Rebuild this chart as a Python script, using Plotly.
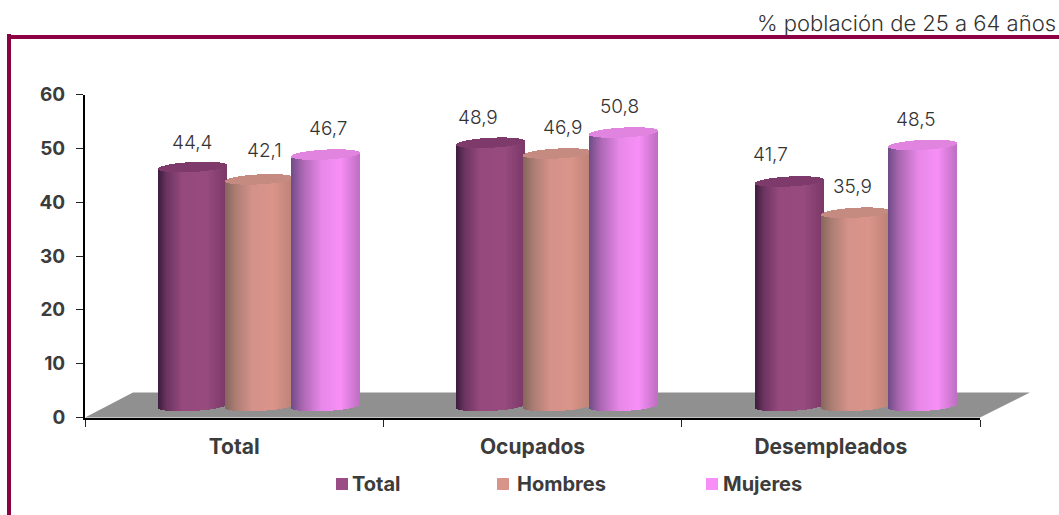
import plotly.graph_objects as go
import numpy as np

categories = ["Total", "Ocupados", "Desempleados"]
total = [44.4, 48.9, 41.7]
hombres = [42.1, 46.9, 35.9]
mujeres = [46.7, 50.8, 48.5]
y_ticks = [0, 10, 20, 30, 40, 50, 60]
unit_note = "% población de 25 a 64 años"

W, H = 1059, 515
FONT = "Inter"
TXT = "#3c3c3c"
TXT_LIGHT = "#333333"
FRAME = "#8c0044"


def px(x):
    return x / W


def py(y):
    return 1 - y / H


series = [
    dict(name="Total", values=total, swatch="#9c4c84", cap="#7f3a6c",
         stops=[(-1, "#3c1c3c"), (-0.75, "#6b3460"), (-0.3, "#95497c"), (0.4, "#984b7f"), (1, "#7c3a69")],
         label_dx=[0, -13, -18], label_y=[142, 117, 155], key_x=336, text_x=350),
    dict(name="Hombres", values=hombres, swatch="#d99489", cap="#c58a80",
         stops=[(-1, "#86655d"), (-0.7, "#ab7d73"), (-0.2, "#d4928a"), (0.4, "#db958a"), (1, "#bd8276")],
         label_dx=[6, 5, -3], label_y=[151, 128, 186], key_x=497, text_x=515),
    dict(name="Mujeres", values=mujeres, swatch="#f88ff8", cap="#e184e0",
         stops=[(-1, "#6f4c86"), (-0.65, "#ad68b4"), (-0.1, "#e888e8"), (0.45, "#f88ff8"), (1, "#c070c4")],
         label_dx=[3, -4, -6], label_y=[128, 106, 119], key_x=706, text_x=721),
]


def hex_rgb(c):
    return np.array([int(c[i:i + 2], 16) for i in (1, 3, 5)], float)


def shade(stops, u):
    xs = [s[0] for s in stops]
    rgb = np.array([hex_rgb(s[1]) for s in stops])
    return "rgb(%d,%d,%d)" % tuple(np.interp(u, xs, rgb[:, i]) for i in range(3))


AX_L, AX_R, AX_T, AX_B = 85, 980, 94.5, 417.5
DX, BASE_PX = 24.5, 406
PX_PER_UNIT = (AX_B - AX_T) / 60
CYL_STEP = 66.5 / ((AX_R - AX_L) / 3)
CYL_W = 68 / ((AX_R - AX_L) / 3)
N = 68
ELL = 5.0 / PX_PER_UNIT
TILT = 1.8 / PX_PER_UNIT
Y2_MIN = -5

fig = go.Figure()
# category axis carrier
fig.add_trace(go.Scatter(x=categories, y=[0, 0, 0], mode="markers", marker=dict(opacity=0),
                         showlegend=False, hoverinfo="skip", xaxis="x", yaxis="y"))

us = (np.arange(N) + 0.5) / N * 2 - 1
for si, s in enumerate(series):
    xs, bases, heights, colors = [], [], [], []
    for ci, v in enumerate(s["values"]):
        centre = ci + (si - 1) * CYL_STEP
        for u in us:
            r = np.sqrt(max(1 - u * u, 0))
            xs.append(centre + u * CYL_W / 2)
            bases.append(-ELL * r + TILT * u)
            heights.append(v + ELL * r)
            colors.append(shade(s["stops"], u))
        for u in us:
            r = np.sqrt(max(1 - u * u, 0))
            xs.append(centre + u * CYL_W / 2)
            bases.append(v - ELL * r + TILT * u)
            heights.append(2 * ELL * r)
            colors.append(s["cap"])
    fig.add_trace(go.Bar(x=xs, y=heights, base=bases, width=CYL_W / N * 1.1, name=s["name"],
                         marker=dict(color=colors, line=dict(width=0)), xaxis="x2", yaxis="y2",
                         showlegend=False, hoverinfo="skip"))

annotations = [dict(text=unit_note, xref="paper", yref="paper", x=px(1058), y=py(23),
                    xanchor="right", yanchor="middle", showarrow=False,
                    font=dict(family=FONT, size=22, color=TXT_LIGHT, weight=300))]
shapes = [
    dict(type="path", xref="paper", yref="paper", layer="below", line=dict(width=0), fillcolor="#909090",
         path=f"M {px(AX_L)} {py(AX_B)} L {px(133)} {py(392.5)} L {px(1030)} {py(392.5)} L {px(AX_R)} {py(AX_B)} Z"),
    dict(type="rect", xref="paper", yref="paper", layer="above", line=dict(width=0), fillcolor=FRAME,
         x0=px(7), x1=px(W), y0=py(39), y1=py(35)),
    dict(type="rect", xref="paper", yref="paper", layer="above", line=dict(width=0), fillcolor=FRAME,
         x0=px(7), x1=px(11), y0=py(H), y1=py(34)),
]
for si, s in enumerate(series):
    for ci, v in enumerate(s["values"]):
        annotations.append(dict(text=f"{v:.1f}".replace(".", ","), xref="x2", yref="y2",
                                x=ci + (si - 1) * CYL_STEP, y=v, xshift=s["label_dx"][ci],
                                yshift=(BASE_PX - PX_PER_UNIT * v) - s["label_y"][ci],
                                showarrow=False, font=dict(family=FONT, size=19, color=TXT_LIGHT, weight=300)))
    shapes.append(dict(type="rect", xref="paper", yref="paper", line=dict(width=0), fillcolor=s["swatch"],
                       x0=px(s["key_x"]), x1=px(s["key_x"] + 12), y0=py(490), y1=py(478)))
    annotations.append(dict(text=f"<b>{s['name']}</b>", xref="paper", yref="paper", x=px(s["text_x"]), y=py(484),
                            xanchor="left", yanchor="middle", showarrow=False,
                            font=dict(family=FONT, size=20, color=TXT)))

fig.update_layout(
    width=W, height=H, autosize=False, margin=dict(l=0, r=0, t=0, b=0),
    paper_bgcolor="white", plot_bgcolor="rgba(0,0,0,0)", barmode="overlay", bargap=0, showlegend=False,
    annotations=annotations, shapes=shapes,
    xaxis=dict(domain=[px(AX_L), px(AX_R)], type="category", categoryorder="array", categoryarray=categories,
               range=[-0.5, 2.5], tickson="boundaries", ticks="outside", ticklen=7, tickwidth=1, tickcolor="#222",
               showline=True, linecolor="#000", linewidth=2, showgrid=False, zeroline=False, anchor="y",
               automargin=False, ticklabelstandoff=9, tickfont=dict(family=FONT, size=21, color=TXT, weight="bold")),
    yaxis=dict(domain=[py(AX_B), py(AX_T)], range=[0, 60], tickvals=y_ticks, ticks="outside", ticklen=7,
               tickwidth=1, tickcolor="#222", showline=True, linecolor="#000", linewidth=2, showgrid=False,
               zeroline=False, anchor="x", automargin=False, ticklabelstandoff=7,
               tickfont=dict(family=FONT, size=19, color=TXT, weight="bold")),
    xaxis2=dict(domain=[px(AX_L + DX), px(AX_R + DX)], range=[-0.5, 2.5], visible=False, anchor="y2", automargin=False),
    yaxis2=dict(domain=[py(BASE_PX - Y2_MIN * PX_PER_UNIT), py(BASE_PX - (AX_B - AX_T))], range=[Y2_MIN, 60],
                visible=False, anchor="x2", automargin=False),
)

fig.write_html("out.html", config={"displayModeBar": False},
               post_script="document.body.style.margin='0';document.body.style.overflow='hidden';")
